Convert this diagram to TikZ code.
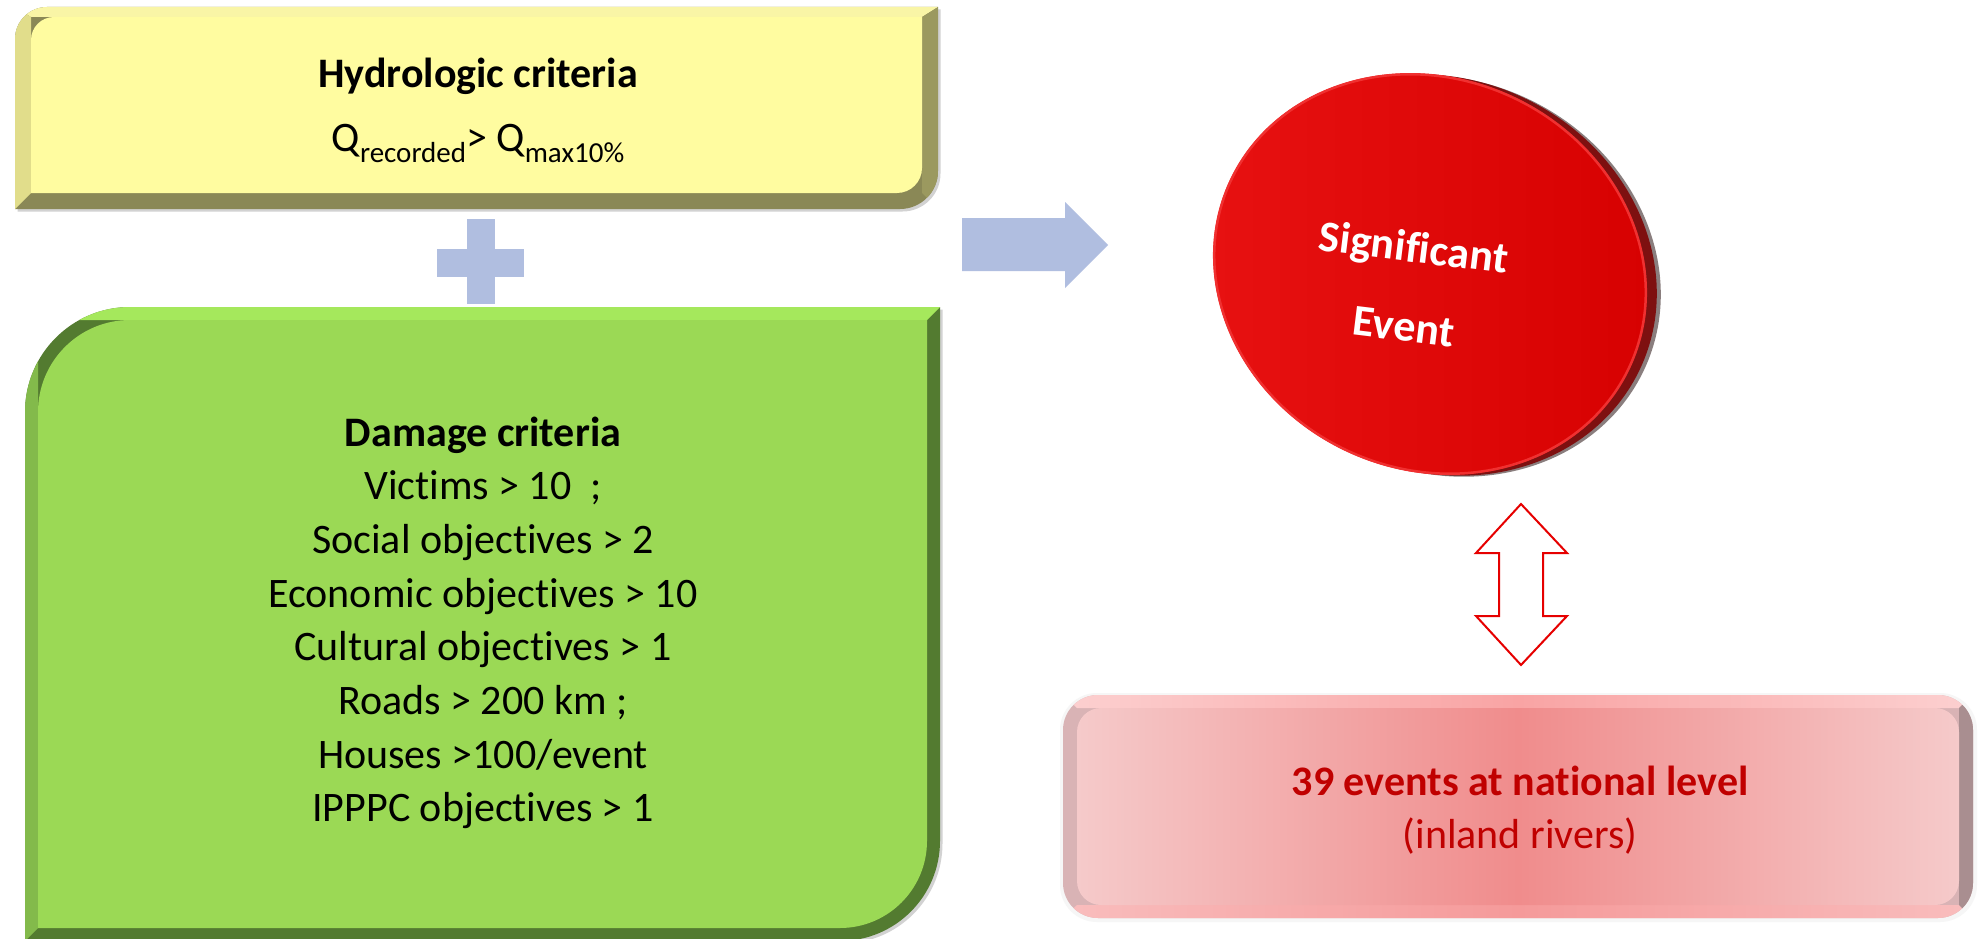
\documentclass[tikz,border=0pt]{standalone}
\usepackage{fontspec}
\setmainfont{Carlito}[Ligatures=NoCommon]
\definecolor{yelFill}{HTML}{FFFCA0}
\definecolor{yelTop}{HTML}{F9F5A6}
\definecolor{yelLeft}{HTML}{E1DD8B}
\definecolor{yelRight}{HTML}{9B995F}
\definecolor{yelBot}{HTML}{8A8856}
\definecolor{grnFill}{HTML}{9BD955}
\definecolor{grnTop}{HTML}{A5E85C}
\definecolor{grnLeft}{HTML}{83BA4B}
\definecolor{grnDark}{HTML}{537B30}
\definecolor{arrBlue}{HTML}{B0BEE0}
\definecolor{discL}{HTML}{E81212}
\definecolor{discR}{HTML}{D60000}
\definecolor{discEdge}{HTML}{F03030}
\definecolor{rimRed}{HTML}{7E1010}
\definecolor{rimGray}{HTML}{8A7E7E}
\definecolor{dblRed}{HTML}{E60000}
\definecolor{pinkEdge}{HTML}{F5CACA}
\definecolor{pinkMid}{HTML}{F08C8C}
\definecolor{pinkTopE}{HTML}{FCD0D0}
\definecolor{pinkTopM}{HTML}{F9A4A4}
\definecolor{pinkBotE}{HTML}{F9BDBD}
\definecolor{pinkBotM}{HTML}{F59A9A}
\definecolor{pinkLeft}{HTML}{D9B3B5}
\definecolor{pinkRight}{HTML}{A98E90}
\definecolor{pinkText}{HTML}{C00000}
\newcommand\qsub[1]{\raisebox{-0.24em}{\fontsize{29}{29}\selectfont #1}}
\tikzset{
  txt/.style={anchor=base, inner sep=0pt, font=\fontsize{42}{50}\selectfont},
  txtb/.style={txt, font=\bfseries\fontsize{42}{50}\selectfont},
  disctxt/.style={anchor=base, inner sep=0pt, text=white, rotate=-7, font=\bfseries\fontsize{44}{50}\selectfont},
  shadowfill/.style={fill=gray!35, shift={(2.5,2.5)}}
}
\begin{document}
\begin{tikzpicture}[x=1pt,y=-1pt]
\useasboundingbox (0,0) rectangle (1987,939);
\fill[white] (0,0) rectangle (1987,939);

% ---------- yellow box ----------
\fill[shadowfill] (15,209) -- (15,39) .. controls (15,21.3) and (29.3,7) .. (47,7) -- (938,7) -- (938,171) .. controls (938,192) and (921,209) .. (900,209) -- cycle;
\begin{scope}
\clip (15,209) -- (15,39) .. controls (15,21.3) and (29.3,7) .. (47,7) -- (938,7) -- (938,171) .. controls (938,192) and (921,209) .. (900,209) -- cycle;
\fill[yelBot] (0,0) rectangle (960,220);
\fill[yelTop] (15,7) -- (938,7) -- (922,17) -- (31,17) -- cycle;
\fill[yelLeft] (15,7) -- (31,17) -- (31,193) -- (15,209) -- cycle;
\fill[yelRight] (938,7) -- (938,209) -- (922,193) -- (922,17) -- cycle;
\end{scope}
\fill[yelFill] (31,193) -- (31,40) .. controls (31,27.3) and (41.3,17) .. (54,17) -- (922,17) -- (922,168) .. controls (922,181.8) and (910.8,193) .. (897,193) -- cycle;
\node[txtb] (hyd) at (478,88) {Hydrologic criteria};
\node[txt] (qform) at (478,152) {Q\qsub{recorded}> Q\qsub{max10\%}};

% ---------- plus sign ----------
\fill[arrBlue] (467,219) rectangle (495,304);
\fill[arrBlue] (437,249) rectangle (524,277);

% ---------- green box ----------
\fill[shadowfill] (25,941) -- (25,412) .. controls (25,354) and (72,307) .. (130,307) -- (940,307) -- (940,841) .. controls (940,896.2) and (895.2,941) .. (840,941) -- cycle;
\begin{scope}
\clip (25,941) -- (25,412) .. controls (25,354) and (72,307) .. (130,307) -- (940,307) -- (940,841) .. controls (940,896.2) and (895.2,941) .. (840,941) -- cycle;
\fill[grnDark] (0,290) rectangle (960,960);
\fill[grnTop] (25,307) -- (940,307) -- (927,320) -- (38,320) -- cycle;
\fill[grnLeft] (25,307) -- (38,320) -- (38,928) -- (25,941) -- cycle;
\end{scope}
\fill[grnFill] (38,928) -- (38,412) .. controls (38,361.2) and (79.2,320) .. (130,320) -- (927,320) -- (927,841) .. controls (927,889) and (888,928) .. (840,928) -- cycle;
\node[txtb] (dmg) at (483,446) {Damage criteria};
\node[txt] (c1) at (483,499) {Victims > 10\ \ ;};
\node[txt] (c2) at (483,553) {Social objectives > 2};
\node[txt] (c3) at (483,607) {Economic objectives > 10};
\node[txt] (c4) at (483,660) {Cultural objectives > 1};
\node[txt] (c5) at (483,714) {Roads > 200 km ;};
\node[txt] (c6) at (483,768) {Houses >100/event};
\node[txt] (c7) at (483,821) {IPPPC objectives > 1};

% ---------- blue arrow ----------
\fill[arrBlue] (962,218) -- (1065,218) -- (1065,202) -- (1108,245) -- (1065,288) -- (1065,271) -- (962,271) -- cycle;

% ---------- red disc ----------
\fill[rimGray, rotate around={-25:(1444,276)}] (1444,276) ellipse [x radius=221pt, y radius=196pt];
\fill[rimRed, rotate around={-25:(1440,275)}] (1440,275) ellipse [x radius=221pt, y radius=196pt];
\shade[left color=discL, right color=discR, rotate around={-25:(1430,274)}] (1430,274) ellipse [x radius=221pt, y radius=196pt];
\draw[discEdge, line width=2.5pt, rotate around={-25:(1430,274)}] (1430,274) ellipse [x radius=220pt, y radius=195pt];
\node[disctxt] (sig) at (1412,262) {Significant};
\node[disctxt] (evt) at (1402,341) {Event};

% ---------- double arrow ----------
\filldraw[fill=white, draw=dblRed, line width=2pt, line join=miter] (1521,504) -- (1567,553) -- (1543,553) -- (1543,616) -- (1567,616) -- (1521,665) -- (1476,616) -- (1499,616) -- (1499,553) -- (1476,553) -- cycle;

% ---------- pink box ----------
\fill[gray!7, rounded corners=37pt] (1060,693) rectangle (1977,922);
\begin{scope}
\clip[rounded corners=35pt] (1063,695) rectangle (1973,918);
\fill[pinkLeft] (1050,680) rectangle (1990,930);
\shade[left color=pinkTopE, right color=pinkTopE, middle color=pinkTopM] (1063,695) -- (1973,695) -- (1959,708) -- (1077,708) -- cycle;
\shade[left color=pinkBotE, right color=pinkBotE, middle color=pinkBotM] (1063,918) -- (1973,918) -- (1959,905) -- (1077,905) -- cycle;
\fill[pinkRight] (1973,695) -- (1959,708) -- (1959,905) -- (1973,918) -- cycle;
\end{scope}
\shade[left color=pinkEdge, right color=pinkEdge, middle color=pinkMid, rounded corners=24pt] (1077,708) rectangle (1959,905);
\node[txtb, text=pinkText] (ev) at (1520,795) {39 events at national level};
\node[txt, text=pinkText] (ir) at (1520,848) {(inland rivers)};
\end{tikzpicture}
\end{document}
